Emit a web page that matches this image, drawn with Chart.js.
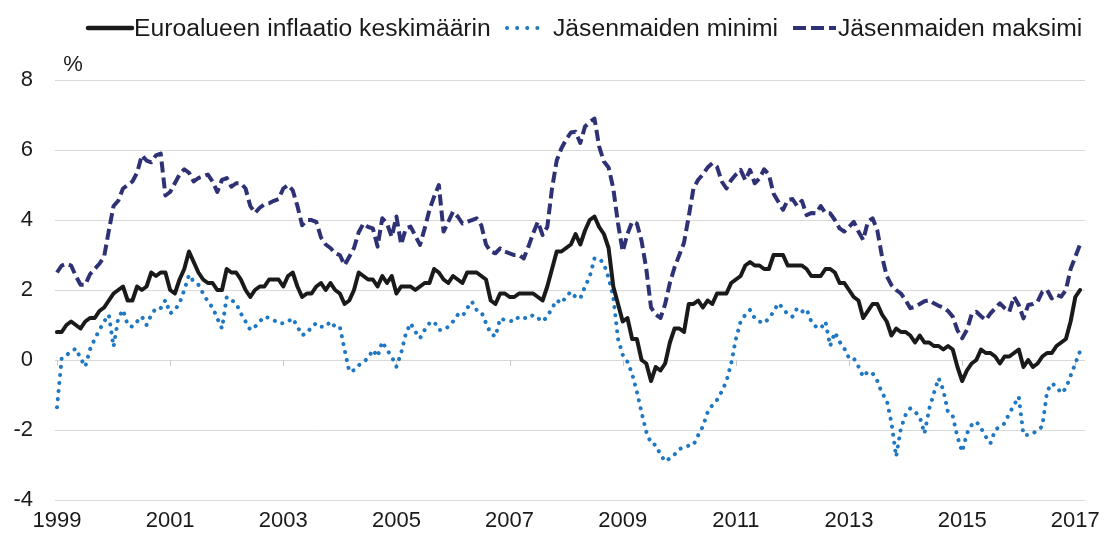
<!DOCTYPE html>
<html><head><meta charset="utf-8">
<script src="https://cdn.jsdelivr.net/npm/chart.js@4.4.1/dist/chart.umd.min.js"></script>
<style>html,body{margin:0;padding:0;background:#fff;}#wrap{width:1108px;height:540px;position:relative;}</style>
</head><body><div id="wrap"><canvas id="c" width="1108" height="540"></canvas></div>
<script>
const startYear = 1999;
const yearTickLabels = [1999, 2001, 2003, 2005, 2007, 2009, 2011, 2013, 2015, 2017];
const yTicks = [-4, -2, 0, 2, 4, 6, 8];
const unitLabel = "%";
const seriesNames = ["Euroalueen inflaatio keskimäärin", "Jäsenmaiden minimi", "Jäsenmaiden maksimi"];

// Monthly values, Jan 1999 – Feb 2017
const euroAvg = [
  0.8,0.8,1.0,1.1,1.0,0.9,1.1,1.2,1.2,1.4,1.5,1.7,
  1.9,2.0,2.1,1.7,1.7,2.1,2.0,2.1,2.5,2.4,2.5,2.5,
  2.0,1.9,2.3,2.6,3.1,2.8,2.5,2.3,2.2,2.2,2.0,2.0,
  2.6,2.5,2.5,2.3,2.0,1.8,2.0,2.1,2.1,2.3,2.3,2.3,
  2.1,2.4,2.5,2.1,1.8,1.9,1.9,2.1,2.2,2.0,2.2,2.0,
  1.9,1.6,1.7,2.0,2.5,2.4,2.3,2.3,2.1,2.4,2.2,2.4,
  1.9,2.1,2.1,2.1,2.0,2.1,2.2,2.2,2.6,2.5,2.3,2.2,
  2.4,2.3,2.2,2.5,2.5,2.5,2.4,2.3,1.7,1.6,1.9,1.9,
  1.8,1.8,1.9,1.9,1.9,1.9,1.8,1.7,2.1,2.6,3.1,3.1,
  3.2,3.3,3.6,3.3,3.7,4.0,4.1,3.8,3.6,3.2,2.1,1.6,
  1.1,1.2,0.6,0.6,0.0,-0.1,-0.6,-0.2,-0.3,-0.1,0.5,0.9,
  0.9,0.8,1.6,1.6,1.7,1.5,1.7,1.6,1.9,1.9,1.9,2.2,
  2.3,2.4,2.7,2.8,2.7,2.7,2.6,2.6,3.0,3.0,3.0,2.7,
  2.7,2.7,2.7,2.6,2.4,2.4,2.4,2.6,2.6,2.5,2.2,2.2,
  2.0,1.8,1.7,1.2,1.4,1.6,1.6,1.3,1.1,0.7,0.9,0.8,
  0.8,0.7,0.5,0.7,0.5,0.5,0.4,0.4,0.3,0.4,0.3,-0.2,
  -0.6,-0.3,-0.1,0.0,0.3,0.2,0.2,0.1,-0.1,0.1,0.1,0.2,
  0.3,-0.2,0.0,-0.2,-0.1,0.1,0.2,0.2,0.4,0.5,0.6,1.1,
  1.8,2.0
];
const memberMin = [
  -1.35,0.05,0.14,0.24,0.33,0.05,-0.19,0.3,0.6,0.86,1.1,1.29,
  0.38,1.2,1.43,1.0,0.95,1.1,1.24,1.0,1.29,1.48,1.48,1.71,
  1.33,1.43,1.62,2.0,2.43,2.24,2.15,1.9,1.67,1.5,1.19,0.9,
  1.8,1.71,1.62,1.33,1.1,0.86,0.95,1.1,1.24,1.2,1.14,1.05,
  1.05,1.1,1.19,0.95,0.71,0.76,0.95,1.05,0.95,0.95,1.1,0.95,
  0.95,0.3,-0.33,-0.29,-0.15,-0.05,0.05,0.29,0.1,0.52,0.29,0.1,
  -0.19,0.2,0.76,1.05,0.81,0.62,0.86,1.05,1.1,0.86,0.86,0.95,
  1.1,1.29,1.24,1.48,1.67,1.43,1.38,1.05,0.76,0.67,1.19,1.14,
  1.12,1.1,1.24,1.2,1.19,1.29,1.2,1.1,1.24,1.48,1.71,1.62,
  1.81,1.95,1.8,1.76,2.1,2.38,2.9,2.9,2.75,2.35,1.8,0.6,
  0.15,-0.05,-0.4,-0.9,-1.5,-2.05,-2.38,-2.43,-2.7,-2.9,-2.81,-2.7,
  -2.55,-2.48,-2.45,-2.43,-2.15,-1.9,-1.5,-1.29,-1.14,-0.9,-0.6,-0.1,
  0.6,1.1,1.29,1.43,1.19,1.1,1.05,1.19,1.38,1.62,1.48,1.3,
  1.24,1.48,1.38,1.45,1.1,0.95,0.9,1.1,0.4,0.79,0.52,0.33,
  0.05,0.05,-0.19,-0.48,-0.33,-0.38,-0.6,-0.95,-1.14,-1.8,-2.76,-1.95,
  -1.57,-1.38,-1.48,-1.62,-2.1,-1.4,-0.95,-0.52,-0.86,-1.5,-1.6,-2.2,
  -2.62,-2.1,-1.86,-1.76,-1.95,-2.19,-2.38,-2.0,-1.9,-1.81,-1.52,-1.29,
  -1.05,-2.14,-2.14,-2.1,-2.0,-1.9,-0.9,-0.67,-0.76,-0.95,-0.81,-0.45,
  -0.1,0.25
];
const memberMax = [
  2.5,2.7,2.75,2.7,2.4,2.15,2.15,2.45,2.6,2.75,2.95,3.7,
  4.4,4.55,4.9,5.0,5.1,5.35,5.85,5.7,5.65,5.85,5.9,4.7,
  4.8,5.05,5.3,5.45,5.35,5.1,5.2,5.25,5.3,5.1,4.8,5.15,
  5.2,4.95,5.05,5.05,4.9,4.4,4.2,4.35,4.45,4.48,4.55,4.6,
  4.9,5.0,4.85,4.4,3.85,4.0,4.0,3.95,3.5,3.3,3.2,3.05,
  3.0,2.71,2.95,3.2,3.65,3.9,3.8,3.76,3.24,4.05,3.9,3.52,
  4.1,3.3,3.76,3.81,3.55,3.29,3.76,4.29,4.67,5.0,3.67,3.95,
  4.24,4.1,3.9,3.95,4.0,4.05,3.85,3.3,3.1,3.05,3.19,3.1,
  3.05,3.0,3.0,2.9,3.24,3.62,3.95,3.57,3.8,4.9,5.7,6.05,
  6.3,6.5,6.52,6.2,6.67,6.8,6.9,6.1,5.67,5.5,4.9,3.9,
  3.1,3.6,3.95,3.9,3.4,2.6,1.5,1.3,1.2,1.6,2.2,2.65,
  3.0,3.35,4.1,4.9,5.15,5.3,5.5,5.62,5.52,5.1,4.9,5.14,
  5.3,5.43,5.14,5.43,5.05,5.19,5.45,5.3,4.75,4.52,4.29,4.57,
  4.6,4.4,4.55,4.14,4.2,4.19,4.4,4.2,4.19,4.0,3.76,3.67,
  3.8,3.95,3.67,3.43,3.95,4.05,3.7,2.95,2.4,2.14,2.0,1.9,
  1.71,1.48,1.52,1.6,1.68,1.71,1.62,1.55,1.5,1.4,1.24,0.85,
  0.62,0.86,1.3,1.38,1.25,1.14,1.33,1.48,1.62,1.48,1.38,1.81,
  1.57,1.19,1.57,1.6,1.67,1.95,2.0,1.76,1.86,1.81,2.0,2.6,
  2.95,3.3
];

const colors = ["#1a1a1a", "#1f78c3", "#2e3275"];
const dashes = [[], [0.1, 8], [11, 5]];
const widths = [4, 4, 4];
const caps = ["round", "round", "butt"];

const toPoints = arr => arr.map((v, i) => ({ x: i, y: v }));
const series = [euroAvg, memberMin, memberMax];

const FONT = "'Liberation Sans', Arial, sans-serif";

const extrasPlugin = {
  id: "extras",
  beforeDatasetsDraw(chart) {
    const ctx = chart.ctx, xs = chart.scales.x, ys = chart.scales.y;
    const y0 = ys.getPixelForValue(0);
    ctx.save();
    ctx.strokeStyle = "#c9c9c9";
    ctx.lineWidth = 1;
    xs.ticks.forEach(t => {
      const px = Math.round(xs.getPixelForValue(t.value)) + 0.5;
      ctx.beginPath(); ctx.moveTo(px, y0); ctx.lineTo(px, y0 + 6); ctx.stroke();
    });
    ctx.restore();
  },
  afterDraw(chart) {
    const ctx = chart.ctx;
    ctx.save();
    ctx.fillStyle = "#1a1a1a";
    ctx.font = "22px " + FONT;
    ctx.textAlign = "center"; ctx.textBaseline = "middle";
    ctx.fillText(unitLabel, 73, 65);
    const ly = 28;
    const items = [
      { x0: 88, x1: 132, tx: 134 },
      { x0: 507, x1: 540, tx: 553 },
      { x0: 793, x1: 836, tx: 838 }
    ];
    ctx.font = "24.7px " + FONT;
    ctx.textAlign = "left";
    items.forEach((it, i) => {
      ctx.beginPath();
      ctx.strokeStyle = colors[i];
      ctx.lineWidth = i === 0 ? 4.5 : 4;
      ctx.lineCap = caps[i];
      ctx.setLineDash(i === 1 ? [0.1, 10] : i === 2 ? [13, 5] : []);
      ctx.moveTo(it.x0, ly); ctx.lineTo(it.x1, ly); ctx.stroke();
      ctx.setLineDash([]);
      ctx.fillStyle = "#1a1a1a";
      ctx.fillText(seriesNames[i], it.tx, ly + 1);
    });
    ctx.restore();
  }
};

new Chart(document.getElementById("c"), {
  type: "line",
  data: {
    datasets: series.map((arr, i) => ({
      label: seriesNames[i],
      data: toPoints(arr),
      borderColor: colors[i],
      backgroundColor: colors[i],
      borderWidth: widths[i],
      borderDash: dashes[i],
      borderCapStyle: caps[i],
      borderJoinStyle: "round",
      pointRadius: 0,
      tension: 0,
      fill: false
    }))
  },
  options: {
    responsive: false,
    animation: false,
    devicePixelRatio: 1,
    layout: { padding: { top: 80, right: 21, left: 0, bottom: 0 } },
    plugins: { legend: { display: false }, tooltip: { enabled: false } },
    scales: {
      x: {
        type: "linear",
        min: -0.42, max: 218.05,
        afterBuildTicks: s => { s.ticks = yearTickLabels.map(y => ({ value: (y - startYear) * 12 })); },
        afterFit: s => { s.height = 40; },
        grid: { display: false, drawTicks: false },
        border: { display: false },
        ticks: {
          autoSkip: false, maxRotation: 0, padding: 8,
          color: "#1a1a1a", font: { family: FONT, size: 22 },
          callback: v => String(startYear + v / 12)
        }
      },
      y: {
        min: -4, max: 8,
        afterBuildTicks: s => { s.ticks = yTicks.map(v => ({ value: v })); },
        afterFit: s => { s.width = 55; },
        grid: { color: "#d9d9d9", lineWidth: 1, drawTicks: false },
        border: { display: false },
        ticks: { padding: 22, color: "#1a1a1a", font: { family: FONT, size: 22 } }
      }
    }
  },
  plugins: [extrasPlugin]
});
</script></body></html>
